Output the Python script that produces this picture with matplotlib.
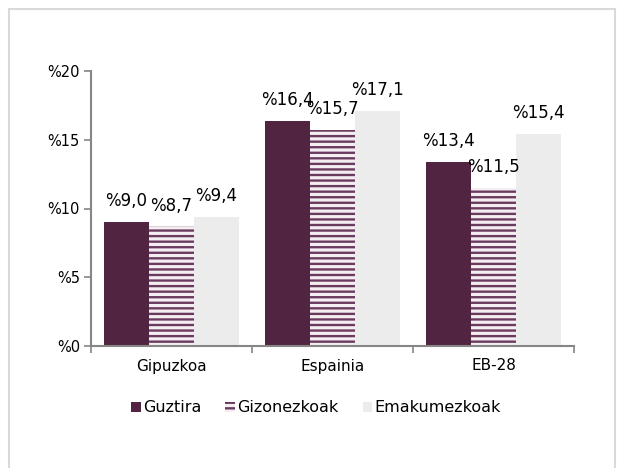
import matplotlib
matplotlib.use("Agg")
import matplotlib.pyplot as plt
import numpy as np
from matplotlib.patches import Rectangle

categories = ["Gipuzkoa", "Espainia", "EB-28"]
series_names = ["Guztira", "Gizonezkoak", "Emakumezkoak"]
guztira = [9.0, 16.4, 13.4]
gizonezkoak = [8.7, 15.7, 11.5]
emakumezkoak = [9.4, 17.1, 15.4]
yticks = [0, 5, 10, 15, 20]

plt.rcParams['hatch.linewidth'] = 1.7
plt.rcParams['font.family'] = ['DejaVu Sans']

fig = plt.figure(figsize=(6.17, 4.68), dpi=100)
ax = fig.add_axes([91/617, 1-346/468, (574-91)/617, (346-71)/468])

x = np.arange(len(categories))
w = 0.28
dark = "#512441"
hatch_col = "#6b3a5f"
light = "#ececec"

b1 = ax.bar(x - w, guztira, w, color=dark, label=series_names[0], linewidth=0)
b2 = ax.bar(x, gizonezkoak, w, facecolor="#f4eef2", edgecolor=hatch_col, hatch='---',
            label=series_names[1], linewidth=0)
b3 = ax.bar(x + w, emakumezkoak, w, color=light, label=series_names[2], linewidth=0)

def fmt(v):
    return "%" + f"{v:.1f}".replace(".", ",")

for bars, vals in ((b1, guztira), (b2, gizonezkoak), (b3, emakumezkoak)):
    for rect, v in zip(bars, vals):
        ax.annotate(fmt(v), (rect.get_x() + rect.get_width()/2, v),
                    xytext=(0, 15), textcoords="offset points",
                    ha="center", va="center", fontsize=12, color="#000000")

ax.set_xlim(-0.5, 2.5)
ax.set_ylim(0, 20)
ax.set_yticks(yticks)
ax.set_yticklabels(["%" + str(t) for t in yticks], fontsize=10.5)
ax.set_xticks(x)
ax.set_xticklabels(categories, fontsize=11)
ax.tick_params(axis='x', length=0, pad=9)
ax.set_xticks([-0.5, 0.5, 1.5, 2.5], minor=True)
ax.tick_params(axis='x', which='minor', length=5, width=1.2, color="#868686")
ax.tick_params(axis='y', length=5, width=1.2, color="#868686", pad=3)

for s in ("top", "right"):
    ax.spines[s].set_visible(False)
for s in ("left", "bottom"):
    ax.spines[s].set_color("#868686")
    ax.spines[s].set_linewidth(1.5)

leg = fig.legend(handles=[b1, b2, b3], labels=series_names, loc="center",
                 bbox_to_anchor=(316/617, 1-408/468), ncol=3, frameon=False,
                 fontsize=11.5, handlelength=0.6, handleheight=0.6,
                 handletextpad=0.15, columnspacing=1.5)

fig.patches.append(Rectangle((9/617, -0.05), (615-9)/617, 1.05 - 9/468,
                             transform=fig.transFigure, fill=False,
                             edgecolor="#d9d9d9", linewidth=1.5))

fig.savefig("out.png", dpi=100)
